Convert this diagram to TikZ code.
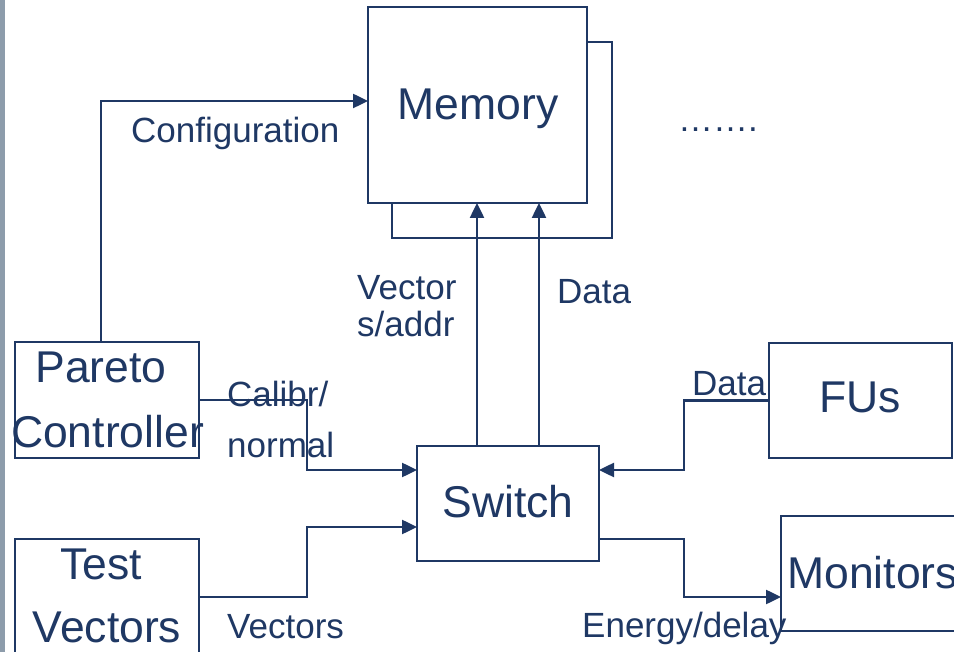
\documentclass[tikz,border=0pt]{standalone}
\usepackage{fontspec}
\setmainfont{Liberation Sans}
\usetikzlibrary{arrows.meta}
\definecolor{navy}{RGB}{31,56,100}
\definecolor{barcol}{RGB}{141,156,171}
\tikzset{
  box/.style={draw=navy, line width=2.5pt, fill=white, rectangle, inner sep=0pt, outer sep=0pt},
  boxtxt/.style={font=\fontsize{44.5}{62}\selectfont, text=navy, inner sep=0pt, anchor=base},
  lbl/.style={font=\fontsize{35}{37}\selectfont, text=navy, inner sep=0pt, anchor=base west},
  conn/.style={draw=navy, line width=2.5pt},
  arr/.style={conn, -{Triangle[length=15pt,width=14pt]}}
}
\begin{document}
\begin{tikzpicture}[x=1pt,y=-1pt]
\useasboundingbox (0,0) rectangle (954,652);
\clip (0,0) rectangle (954,652);
\fill[white] (0,0) rectangle (954,652);
\fill[barcol] (0,0) rectangle (5,652);

% boxes
\node[box, minimum width=220pt, minimum height=196pt] (mem2) at (502,140) {};
\node[box, minimum width=219pt, minimum height=196pt] (mem) at (477.5,105) {};
\node[box, minimum width=182pt, minimum height=115pt] (sw) at (508,503.5) {};
\node[box, minimum width=184pt, minimum height=116pt] (pc) at (107,400) {};
\node[box, minimum width=184pt, minimum height=180pt] (tv) at (107,629) {};
\node[box, minimum width=183pt, minimum height=115pt] (fu) at (860.5,400.5) {};
\node[box, minimum width=219pt, minimum height=115pt] (mon) at (890.5,573.5) {};

% box texts
\node[boxtxt] (tmem) at (478,120) {Memory};
\node[boxtxt] (tsw) at (508,518) {Switch};
\node[boxtxt] (tfu) at (860,413) {FUs};
\node[boxtxt, anchor=base west] (tmon) at (787,588) {Monitors};
\node[boxtxt] (tpc1) at (101,383) {Pareto};
\node[boxtxt] (tpc2) at (107.5,447) {Controller};
\node[boxtxt] (ttv1) at (101,579) {Test};
\node[boxtxt] (ttv2) at (107,642) {Vectors};

% labels
\node[lbl] (lconf) at (131,143) {Configuration};
\node[lbl] (lvec1) at (357,300) {Vector};
\node[lbl] (lvec2) at (357,337) {s/addr};
\node[lbl] (ldata1) at (557,304) {Data};
\node[lbl] (lcal1) at (227,407) {Calibr/};
\node[lbl] (lcal2) at (227,457) {normal};
\node[lbl] (ldata2) at (692,396) {Data};
\node[lbl] (lvecs) at (227,638) {Vectors};
\node[lbl] (lener) at (582,637) {Energy/delay};
\node[lbl] (ldots) at (678,132) {…….};

% connectors
\draw[arr] (pc.north west) ++(86,0) |- (mem.west |- 0,101);
\draw[arr] (sw.north -| 477,0) -- (mem.south -| 477,0);
\draw[arr] (sw.north -| 539,0) -- (mem.south -| 539,0);
\draw[arr] (pc.east) -- (pc.east -| 307,0) |- (sw.west |- 0,470);
\draw[arr] (tv.east |- 0,597) -- (307,597) |- (sw.west |- 0,527);
\draw[arr] (fu.west) -- (fu.west -| 684,0) |- (sw.east |- 0,470);
\draw[arr] (sw.east |- 0,539) -- (684,539) |- (mon.west |- 0,597);
\end{tikzpicture}
\end{document}
